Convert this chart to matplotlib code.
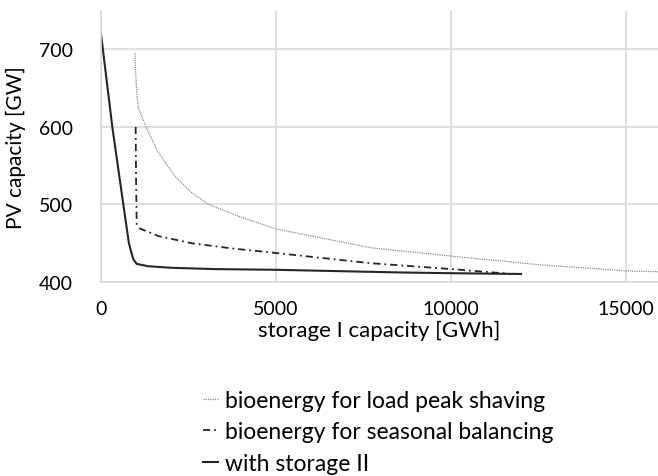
import matplotlib.pyplot as plt

plt.rcParams['font.family'] = ['Lato', 'DejaVu Sans']

# storage I capacity [GWh] vs PV capacity [GW]
peak_x = [970, 990, 1020, 1067, 1305, 1638, 2114, 2590, 3067, 4019, 5020, 7686, 10020, 12500, 15000, 15914]
peak_y = [695, 670, 645, 624, 598, 567, 536, 515, 500, 483, 468, 444, 433, 422, 414, 413]

seasonal_x = [990, 1000, 1020, 1114, 1638, 2590, 3733, 5020, 7686, 10020, 11600]
seasonal_y = [600, 540, 474, 468.6, 459, 449.7, 443, 437, 424, 416.3, 410.5]

storage_x = [0, 323, 637, 800, 923, 1020, 1350, 2000, 3250, 5000, 8500, 10000, 12000]
storage_y = [720, 600, 500, 449, 429, 423, 420, 418, 416.3, 415.4, 412, 411, 410]

labels = ['bioenergy for load peak shaving',
          'bioenergy for seasonal balancing',
          'with storage II']

x_ticks = [0, 5000, 10000, 15000]
y_ticks = [400, 500, 600, 700]

fig = plt.figure(figsize=(6.58, 4.77), dpi=100)
ax = fig.add_axes([0.1535, 0.4073, 0.8465, 0.5682])

grid_c = '#d9d9d9'
l1, = ax.plot(peak_x, peak_y, color='#8c8c8c', lw=0.9, ls=(0, (1, 0.8)))
l2, = ax.plot(seasonal_x, seasonal_y, color='#262626', lw=1.3, ls=(0, (4, 2.2, 1, 2.2)))
l3, = ax.plot(storage_x, storage_y, color='#262626', lw=1.5)

ax.set_xlim(0, 15914)
ax.set_ylim(400, 750)
ax.set_xticks(x_ticks)
ax.set_yticks(y_ticks)
ax.grid(True, color=grid_c, lw=1.2)
ax.set_axisbelow(True)
for s in ['top', 'right']:
    ax.spines[s].set_visible(False)
for s in ['left', 'bottom']:
    ax.spines[s].set_color(grid_c)
    ax.spines[s].set_linewidth(1.2)
ax.tick_params(length=0, labelsize=14, colors='black')
ax.tick_params(axis='y', pad=20)
ax.tick_params(axis='x', pad=13)

ax.set_xlabel('storage I capacity [GWh]', fontsize=16, labelpad=2)
ax.set_ylabel('PV capacity [GW]', fontsize=15)
ax.yaxis.set_label_coords(-0.135, 0.5)

fig.legend([l1, l2, l3], labels, loc='upper left',
           bbox_to_anchor=(0.3085, 0.181), frameon=False, fontsize=16.5,
           handlelength=0.65, handletextpad=0.3, labelspacing=0.47,
           borderpad=0, borderaxespad=0)

fig.savefig('out.png', dpi=100)
